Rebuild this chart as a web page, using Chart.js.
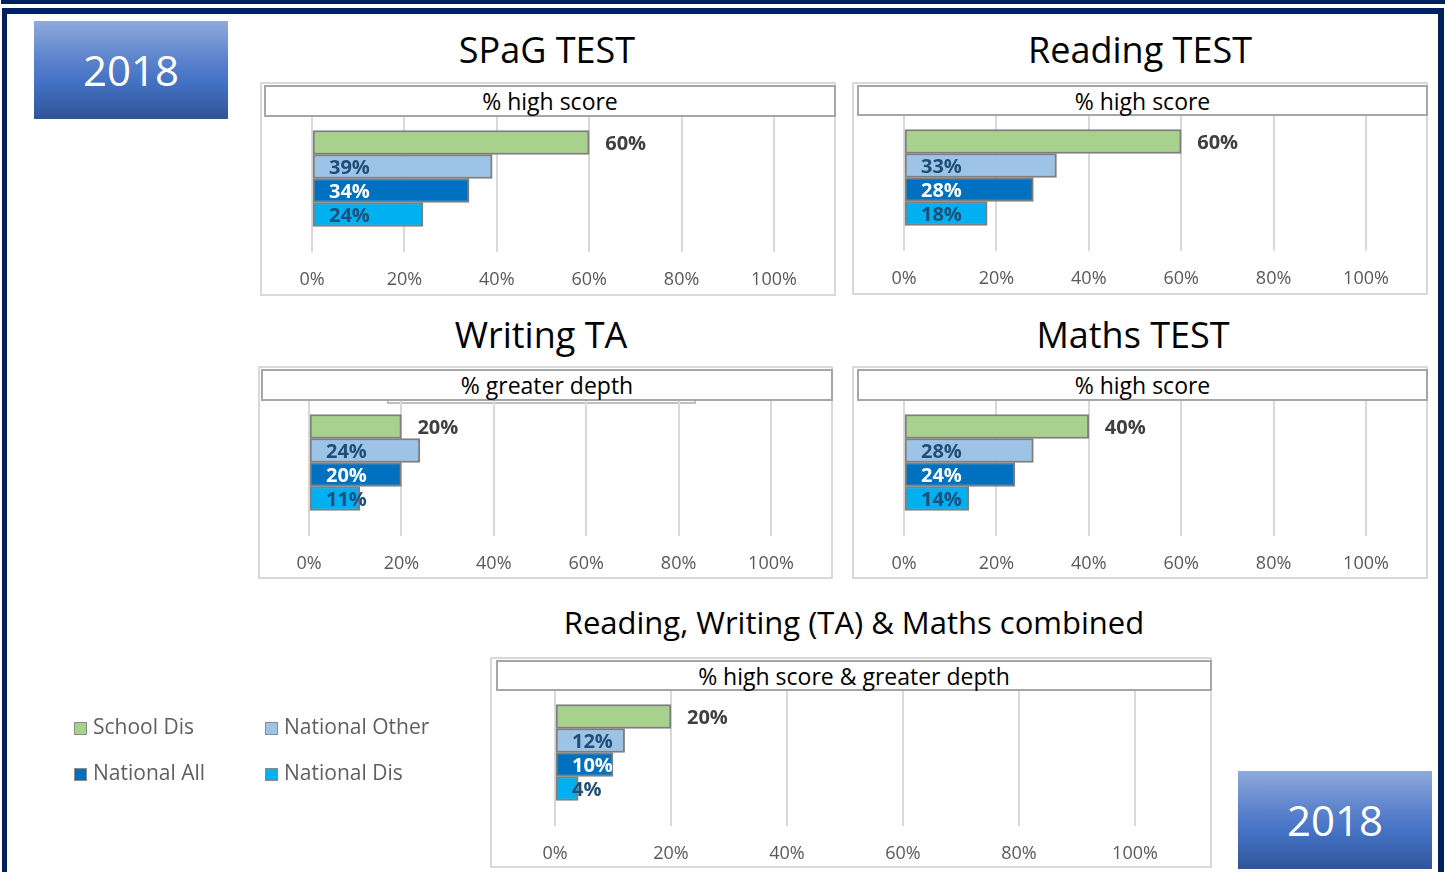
<!DOCTYPE html>
<html>
<head>
<meta charset="utf-8">
<title>KS2 results 2018</title>
<script src="https://cdn.jsdelivr.net/npm/chart.js@4.4.1/dist/chart.umd.min.js"></script>
<style>
  body { margin: 0; background: #fff; font-family: "Open Sans", sans-serif; }
  #page { position: relative; width: 1445px; height: 872px; overflow: hidden; }
  .band { position: absolute; left: 1px; top: 0; width: 1444px; height: 4px; background: #002060; }
  .frame {
    position: absolute; left: 2px; top: 8px; width: 1431px; height: 900px;
    border: solid #002060; border-width: 6px 6px 0 5px;
  }
  .year {
    position: absolute; width: 194px; height: 98px;
    background: linear-gradient(to bottom, #8faadc 0%, #5b82cc 40%, #4472c4 62%, #2f5597 100%);
    color: #fff; font-size: 42px; line-height: 98px; text-align: center;
  }
  .title { position: absolute; width: 700px; text-align: center; color: #000; white-space: nowrap; }
  .panel { position: absolute; box-sizing: border-box; border: 2px solid #d9d9d9; background: #fff; }
  .head {
    position: absolute; box-sizing: border-box; border: 2px solid #a6a6a6; background: #fff;
    font-size: 23px; text-align: center; color: #000; white-space: nowrap;
  }
  .ghost { position: absolute; box-sizing: border-box; border: 2px solid #bfbfbf; border-top: none; }
  canvas { position: absolute; }
  #legend {
    position: absolute; left: 74px; top: 714px; display: grid;
    grid-template-columns: 191px 191px; row-gap: 22px; filter: blur(0.4px);
  }
  #legend div { font-size: 21px; color: #5f5f5f; line-height: 24px; white-space: nowrap; }
  #legend span {
    display: inline-block; width: 11px; height: 11px; margin-right: 6px;
    border: 1px solid #8c8c8c; vertical-align: -1px;
  }
</style>
</head>
<body>
<div id="page">
  <div class="band"></div>
  <div class="frame"></div>
  <div class="year" style="left:34px; top:21px;">2018</div>
  <div class="year" style="left:1238px; top:771px;">2018</div>
  <div id="legend"></div>
</div>
<script>
// series shared by every panel
const seriesNames = ['School Dis', 'National Other', 'National All', 'National Dis'];
const xTicks = [0, 20, 40, 60, 80, 100];

// percentages per subject, in series order
const spagHigh = [60, 39, 34, 24];
const readingHigh = [60, 33, 28, 18];
const writingDepth = [20, 24, 20, 11];
const mathsHigh = [40, 28, 24, 14];
const combinedHigh = [20, 12, 10, 4];

const fillColors = ['#a9d18e', '#9dc3e6', '#0070c0', '#00b0f0'];
const labelColors = ['#404040', '#1f4e79', '#ffffff', '#1f4e79'];

// where each panel sits on the page
const panels = [
  { title: 'SPaG TEST', sub: '% high score', values: spagHigh,
    box: [260, 82, 576, 214], head: [264, 85, 572, 32], titleAt: [547, 52], size: 36, zero: 312, full: 774 },
  { title: 'Reading TEST', sub: '% high score', values: readingHigh,
    box: [852, 82, 576, 213], head: [857, 85, 571, 31], titleAt: [1140, 52], size: 36, zero: 904, full: 1366 },
  { title: 'Writing TA', sub: '% greater depth', values: writingDepth,
    box: [258, 366, 575, 213], head: [261, 369, 572, 32], titleAt: [541, 337], size: 36, zero: 309, full: 771 },
  { title: 'Maths TEST', sub: '% high score', values: mathsHigh,
    box: [852, 366, 576, 213], head: [857, 369, 571, 32], titleAt: [1133, 337], size: 36, zero: 904, full: 1366 },
  { title: 'Reading, Writing (TA) & Maths combined', sub: '% high score & greater depth', values: combinedHigh,
    box: [490, 657, 722, 211], head: [496, 660, 716, 31], titleAt: [854, 624], size: 31, zero: 555, full: 1135 }
];

const PLOT_H = 123;

const page = document.getElementById('page');

function place(el, x, y, w, h) {
  el.style.left = x + 'px';
  el.style.top = y + 'px';
  if (w != null) el.style.width = w + 'px';
  if (h != null) el.style.height = h + 'px';
  page.appendChild(el);
  return el;
}

// value labels: first series sits past the bar end, the rest inside from the base
const barLabels = {
  id: 'barLabels',
  afterDatasetsDraw(chart) {
    const ctx = chart.ctx;
    ctx.save();
    ctx.font = 'bold 20px "Open Sans"';
    ctx.textBaseline = 'middle';
    ctx.textAlign = 'left';
    chart.data.datasets.forEach((ds, i) => {
      const bar = chart.getDatasetMeta(i).data[0];
      const x = i === 0 ? bar.x + 16 : bar.base + 16;
      ctx.fillStyle = labelColors[i];
      ctx.fillText(ds.data[0] + '%', x, bar.y + 2);
    });
    ctx.restore();
  }
};

panels.forEach(p => {
  const [bx, by, bw, bh] = p.box;
  const [hx, hy, hw, hh] = p.head;

  const t = document.createElement('div');
  t.className = 'title';
  t.textContent = p.title;
  t.style.fontSize = p.size + 'px';
  t.style.lineHeight = (p.size + 10) + 'px';
  place(t, p.titleAt[0] - 350, p.titleAt[1] - (p.size + 10) / 2 - 2);

  const box = document.createElement('div');
  box.className = 'panel';
  place(box, bx, by, bw, bh);

  if (p.title === 'Writing TA') {
    const g = document.createElement('div');
    g.className = 'ghost';
    place(g, 387, 396, 309, 8);
  }

  const head = document.createElement('div');
  head.className = 'head';
  head.textContent = p.sub;
  head.style.lineHeight = (hh - 3) + 'px';
  place(head, hx, hy, hw, hh);

  const cx = bx + 2;
  const cy = hy + hh;
  const cw = bx + bw - 2 - cx;
  const ch = by + bh - 2 - cy;
  const canvas = document.createElement('canvas');
  canvas.width = cw;
  canvas.height = ch;
  place(canvas, cx, cy, cw, ch);

  new Chart(canvas, {
    type: 'bar',
    data: {
      labels: [''],
      datasets: seriesNames.map((name, i) => ({
        label: name,
        data: [p.values[i]],
        backgroundColor: fillColors[i],
        borderColor: '#7f7f7f',
        borderWidth: 2,
        borderSkipped: false,
        barThickness: 24
      }))
    },
    options: {
      indexAxis: 'y',
      responsive: false,
      animation: false,
      devicePixelRatio: 1,
      layout: { padding: { left: p.zero - cx, right: cx + cw - p.full, top: 0, bottom: 0 } },
      plugins: { legend: { display: false }, tooltip: { enabled: false } },
      scales: {
        y: { display: false },
        x: {
          min: 0,
          max: 100,
          afterBuildTicks: axis => { axis.ticks = xTicks.map(v => ({ value: v })); },
          afterFit: axis => { axis.height = ch - PLOT_H; },
          grid: { color: '#d9d9d9', lineWidth: 2, tickLength: 12 },
          border: { display: false },
          ticks: {
            padding: 17,
            color: '#595959',
            font: { family: 'Open Sans', size: 18 },
            callback: v => v + '%'
          }
        }
      }
    },
    plugins: [barLabels]
  });
});

// shared legend, bottom left
const legend = document.getElementById('legend');
[0, 1, 2, 3].forEach(i => {
  const item = document.createElement('div');
  const sw = document.createElement('span');
  sw.style.background = fillColors[i];
  item.appendChild(sw);
  item.appendChild(document.createTextNode(seriesNames[i]));
  legend.appendChild(item);
});
</script>
</body>
</html>
